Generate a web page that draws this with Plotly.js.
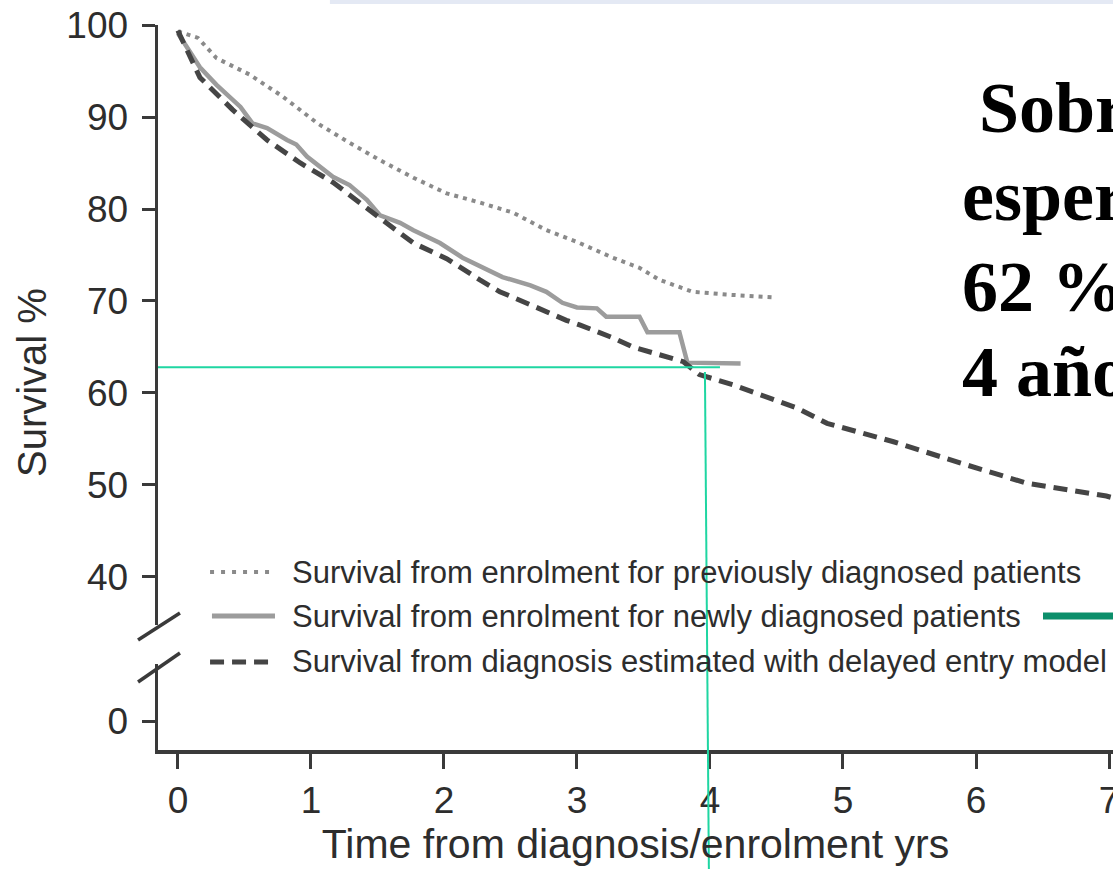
<!DOCTYPE html>
<html>
<head>
<meta charset="utf-8">
<script src="https://cdn.plot.ly/plotly-3.0.1.min.js"></script>
<style>html,body{margin:0;padding:0;background:#fff;}#chart{width:1113px;height:869px;}</style>
</head>
<body>
<div id="chart"></div>
<script>
// ---- data ----
const seriesNames = [
  "Survival from enrolment for previously diagnosed patients",
  "Survival from enrolment for newly diagnosed patients",
  "Survival from diagnosis estimated with delayed entry model"
];
const prevT = [0, 0.15, 0.29, 0.54, 0.79, 1.05, 1.29, 1.52, 1.77, 2.02, 2.27, 2.52, 2.77, 3.02, 3.27, 3.47, 3.62, 3.87, 4.12, 4.47];
const prevS = [99.3, 98.6, 96.4, 94.6, 92.2, 89.3, 87.2, 85.3, 83.4, 81.7, 80.7, 79.6, 77.7, 76.3, 74.7, 73.6, 72.3, 71.0, 70.7, 70.4];

const newT = [0, 0.165, 0.29, 0.47, 0.56, 0.67, 0.82, 0.89, 0.97, 1.165, 1.29, 1.42, 1.52, 1.67, 1.77, 1.97, 2.14, 2.44, 2.65, 2.77, 2.89, 3.0, 3.15, 3.22, 3.47, 3.53, 3.77, 3.80, 3.83, 4.23];
const newS = [99.1, 95.4, 93.5, 91.1, 89.3, 88.8, 87.5, 87.0, 85.7, 83.5, 82.6, 81.0, 79.3, 78.5, 77.7, 76.3, 74.7, 72.6, 71.7, 71.0, 69.8, 69.3, 69.2, 68.3, 68.3, 66.6, 66.6, 65.0, 63.3, 63.2];

const delT = [0, 0.015, 0.165, 0.41, 0.67, 0.92, 1.165, 1.42, 1.52, 1.77, 2.02, 2.27, 2.42, 2.52, 2.77, 2.92, 3.02, 3.27, 3.42, 3.8, 3.92, 4.17, 4.38, 4.65, 4.88, 5.38, 5.88, 6.38, 6.98, 7.03];
const delS = [99.4, 98.9, 94.3, 90.8, 87.5, 85.0, 82.9, 80.2, 79.0, 76.3, 74.6, 72.3, 71.0, 70.4, 68.8, 67.9, 67.4, 66.0, 65.0, 63.4, 62.0, 60.9, 59.8, 58.4, 56.7, 54.7, 52.4, 50.2, 48.8, 48.6];

const xTicks = [0, 1, 2, 3, 4, 5, 6, 7];
const yTicksUpper = [40, 50, 60, 70, 80, 90, 100];
const yTicksLower = [0];
const markLevel = 62.8;     // green reference level (%)
const markYear = 4;         // green reference time (yrs)
const noteLines = ["Sobrevida", "esperada", "62 % a", "4 años"];

// ---- styles ----
const axisCol = '#3a3a3a';
const txtCol = '#2d2d2d';
const sans = 'Liberation Sans, Arial, Helvetica, sans-serif';
const serif = 'Liberation Serif, Times New Roman, serif';
const green = '#1fd6a2';

const xRange = [-0.150, 7.030];

const traces = [
  {x: prevT, y: prevS, name: seriesNames[0], mode: 'lines', xaxis: 'x', yaxis: 'y',
   line: {color: '#8a8a8a', width: 4, dash: '4px,5px'}},
  {x: newT, y: newS, name: seriesNames[1], mode: 'lines', xaxis: 'x', yaxis: 'y',
   line: {color: '#9c9c9c', width: 4.5}},
  {x: delT, y: delS, name: seriesNames[2], mode: 'lines', xaxis: 'x', yaxis: 'y',
   line: {color: '#454545', width: 5, dash: '14px,8px'}},
  // empty trace so the lower (broken-axis) subplot exists
  {x: [], y: [], mode: 'lines', xaxis: 'x', yaxis: 'y2', showlegend: false, hoverinfo: 'skip'}
];

const common = {
  showline: true, linecolor: axisCol, linewidth: 3.5,
  ticks: 'outside', tickcolor: axisCol, tickwidth: 3,
  showgrid: false, zeroline: false,
  tickfont: {family: sans, size: 37, color: txtCol}
};

const legY = [0.2455, 0.1848, 0.1214];
const shapes = [
  // legend samples
  {type: 'line', xref: 'paper', yref: 'paper', x0: 0.0545, x1: 0.1194, y0: legY[0], y1: legY[0],
   line: {color: '#8a8a8a', width: 4, dash: '4px,7px'}},
  {type: 'line', xref: 'paper', yref: 'paper', x0: 0.0565, x1: 0.1225, y0: legY[1], y1: legY[1],
   line: {color: '#9c9c9c', width: 5}},
  {type: 'line', xref: 'paper', yref: 'paper', x0: 0.0545, x1: 0.1194, y0: legY[2], y1: legY[2],
   line: {color: '#454545', width: 5, dash: '14px,8px'}},
  // green bar next to legend
  {type: 'line', xref: 'paper', yref: 'paper', x0: 0.9267, x1: 1.02, y0: legY[1], y1: legY[1],
   line: {color: '#0c8f6b', width: 7}},
  // axis break marks
  {type: 'line', xref: 'paper', yref: 'paper', x0: -0.0209, x1: 0.0230, y0: 0.1517, y1: 0.1890,
   line: {color: axisCol, width: 3.5}},
  {type: 'line', xref: 'paper', yref: 'paper', x0: -0.0209, x1: 0.0230, y0: 0.0938, y1: 0.1338,
   line: {color: axisCol, width: 3.5}},
  // green reference lines
  {type: 'line', xref: 'x', yref: 'y', x0: xRange[0], x1: markYear + 0.075, y0: markLevel, y1: markLevel,
   line: {color: green, width: 2}},
  {type: 'line', xref: 'x', yref: 'paper', x0: markYear - 0.038, x1: markYear - 0.008, y0: 0.5214, y1: -0.17,
   line: {color: green, width: 2}},
  // faint band at top of slide
  {type: 'rect', xref: 'paper', yref: 'paper', x0: 0.18, x1: 1.02, y0: 1.029, y1: 1.04,
   fillcolor: '#e4e9f4', line: {width: 0}}
];

const annotations = [
  {text: 'Survival %', xref: 'paper', yref: 'paper', x: -0.1319, y: 0.5062, textangle: -90,
   showarrow: false, font: {family: sans, size: 40, color: txtCol}, xanchor: 'center', yanchor: 'middle'}
];
seriesNames.forEach((n, i) => annotations.push({
  text: n, xref: 'paper', yref: 'paper', x: 0.1382, y: legY[i], xanchor: 'left', yanchor: 'middle',
  showarrow: false, font: {family: sans, size: 31, color: txtCol}
}));
const noteX = [0.8576, 0.8398, 0.8398, 0.8398];
const noteY = [0.8858, 0.7648, 0.6385, 0.5212];
noteLines.forEach((t, i) => annotations.push({
  text: '<b>' + t + '</b>', xref: 'paper', yref: 'paper', x: noteX[i], y: noteY[i],
  xanchor: 'left', yanchor: 'middle', showarrow: false,
  font: {family: serif, size: 72, color: '#000'}
}));

const layout = {
  width: 1113, height: 869,
  margin: {l: 158, r: 0, t: 25, b: 119, pad: 0},
  paper_bgcolor: '#fff', plot_bgcolor: '#fff',
  showlegend: false,
  xaxis: Object.assign({}, common, {
    range: xRange, anchor: 'y2', tickvals: xTicks, ticklen: 15,
    ticklabelstandoff: 0, ticklabeloverflow: 'allow',
    title: {text: 'Time from diagnosis/enrolment yrs', font: {family: sans, size: 41, color: txtCol}, standoff: 9}
  }),
  yaxis: Object.assign({}, common, {
    domain: [0.1724, 1], range: [34.78, 100], anchor: 'x', tickvals: yTicksUpper, ticklen: 13,
    ticklabelstandoff: 6
  }),
  yaxis2: Object.assign({}, common, {
    domain: [0, 0.1186], range: [-3.15, 6.2], anchor: 'x', tickvals: yTicksLower, ticklen: 13,
    ticklabelstandoff: 6
  }),
  shapes: shapes,
  annotations: annotations
};

Plotly.newPlot('chart', traces, layout, {displayModeBar: false, staticPlot: true});
</script>
</body>
</html>
